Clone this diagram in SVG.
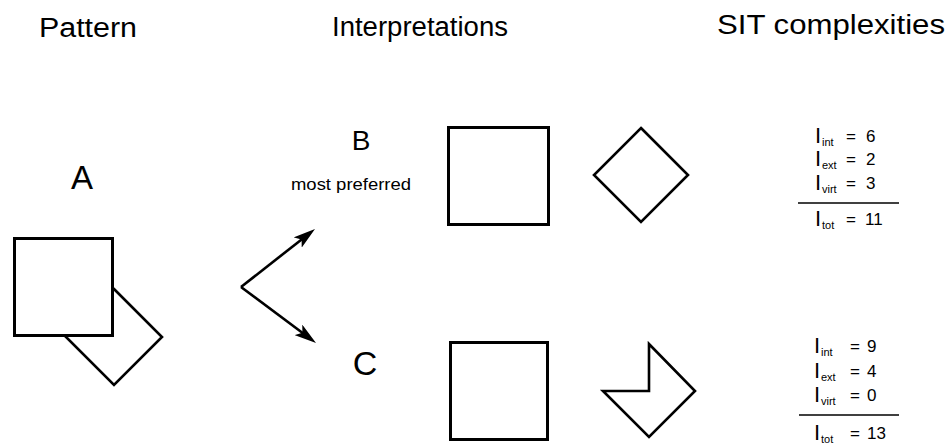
<svg xmlns="http://www.w3.org/2000/svg" width="950" height="445" viewBox="0 0 950 445">
<defs>
<style>
text{font-family:"Liberation Sans",Arial,sans-serif;fill:#000}
.hdr{font-size:27px}
.shape{fill:#fff;stroke:#000;stroke-width:3;stroke-linejoin:miter}
.thin{fill:#fff;stroke:#000;stroke-width:2.6;stroke-linejoin:miter}
.conn{stroke:#000;stroke-width:2.6;fill:none}
.I{font-size:22px}
.sub{font-size:11px}
.val{font-size:17px}
.rule{stroke:#000;stroke-width:1.6}
</style>
<marker id="ah" viewBox="0 0 22 13" refX="7" refY="6.5" markerWidth="22" markerHeight="13" markerUnits="userSpaceOnUse" orient="auto">
<path d="M0,0 L22,6.5 L0,13 L5,6.5 z" fill="#000"/>
</marker>
</defs>
<rect width="950" height="445" fill="#fff"/>

<g id="headers">
<text class="hdr" x="39" y="37" textLength="98" lengthAdjust="spacingAndGlyphs">Pattern</text>
<text class="hdr" x="332" y="36" textLength="176" lengthAdjust="spacingAndGlyphs">Interpretations</text>
<text class="hdr" x="717" y="34" textLength="228" lengthAdjust="spacingAndGlyphs">SIT complexities</text>
</g>

<g id="patternA">
<text x="82" y="189" font-size="33" text-anchor="middle">A</text>
<polygon class="thin" points="114,289 162,337 114,385 66,337"/>
<rect class="shape" x="14.5" y="238.5" width="98" height="97"/>
</g>

<g id="interpB">
<text x="361" y="150" font-size="28" text-anchor="middle">B</text>
<text x="291" y="190" font-size="16" textLength="120" lengthAdjust="spacingAndGlyphs">most preferred</text>
<rect class="shape" x="448.5" y="127.5" width="100" height="97"/>
<polygon class="thin" points="641,128 688,175 641,222 594,175"/>
</g>

<g id="interpC">
<text x="365" y="375" font-size="34" text-anchor="middle">C</text>
<rect class="shape" x="450.5" y="342.5" width="97" height="97"/>
<polygon class="thin" points="649,344 695,391 649,437 603,391 649,391"/>
</g>

<g id="complexB">
<text class="I" x="815" y="143">I</text><text class="sub" x="822" y="146">int</text><text class="val" x="851" y="142" text-anchor="middle">=</text><text class="val" x="866" y="142">6</text>
<text class="I" x="815" y="166">I</text><text class="sub" x="822" y="169">ext</text><text class="val" x="851" y="165" text-anchor="middle">=</text><text class="val" x="866" y="165">2</text>
<text class="I" x="815" y="190">I</text><text class="sub" x="822" y="193">virt</text><text class="val" x="851" y="189" text-anchor="middle">=</text><text class="val" x="866" y="189">3</text>
<line class="rule" x1="798" y1="203" x2="899" y2="203"/>
<text class="I" x="815" y="226">I</text><text class="sub" x="822" y="229">tot</text><text class="val" x="851" y="225" text-anchor="middle">=</text><text class="val" x="865" y="225">11</text>
</g>

<g id="complexC">
<text class="I" x="814" y="353">I</text><text class="sub" x="821" y="356">int</text><text class="val" x="855" y="352" text-anchor="middle">=</text><text class="val" x="867" y="352">9</text>
<text class="I" x="814" y="378">I</text><text class="sub" x="821" y="381">ext</text><text class="val" x="855" y="377" text-anchor="middle">=</text><text class="val" x="867" y="377">4</text>
<text class="I" x="814" y="402">I</text><text class="sub" x="821" y="405">virt</text><text class="val" x="855" y="401" text-anchor="middle">=</text><text class="val" x="867" y="401">0</text>
<line class="rule" x1="799" y1="415" x2="899" y2="415"/>
<text class="I" x="814" y="440">I</text><text class="sub" x="821" y="443">tot</text><text class="val" x="855" y="439" text-anchor="middle">=</text><text class="val" x="867" y="439">13</text>
</g>

<g id="connectors">
<line class="conn" x1="241" y1="287" x2="303.2" y2="238.2" marker-end="url(#ah)"/>
<line class="conn" x1="241" y1="287" x2="304" y2="334" marker-end="url(#ah)"/>
</g>
</svg>
